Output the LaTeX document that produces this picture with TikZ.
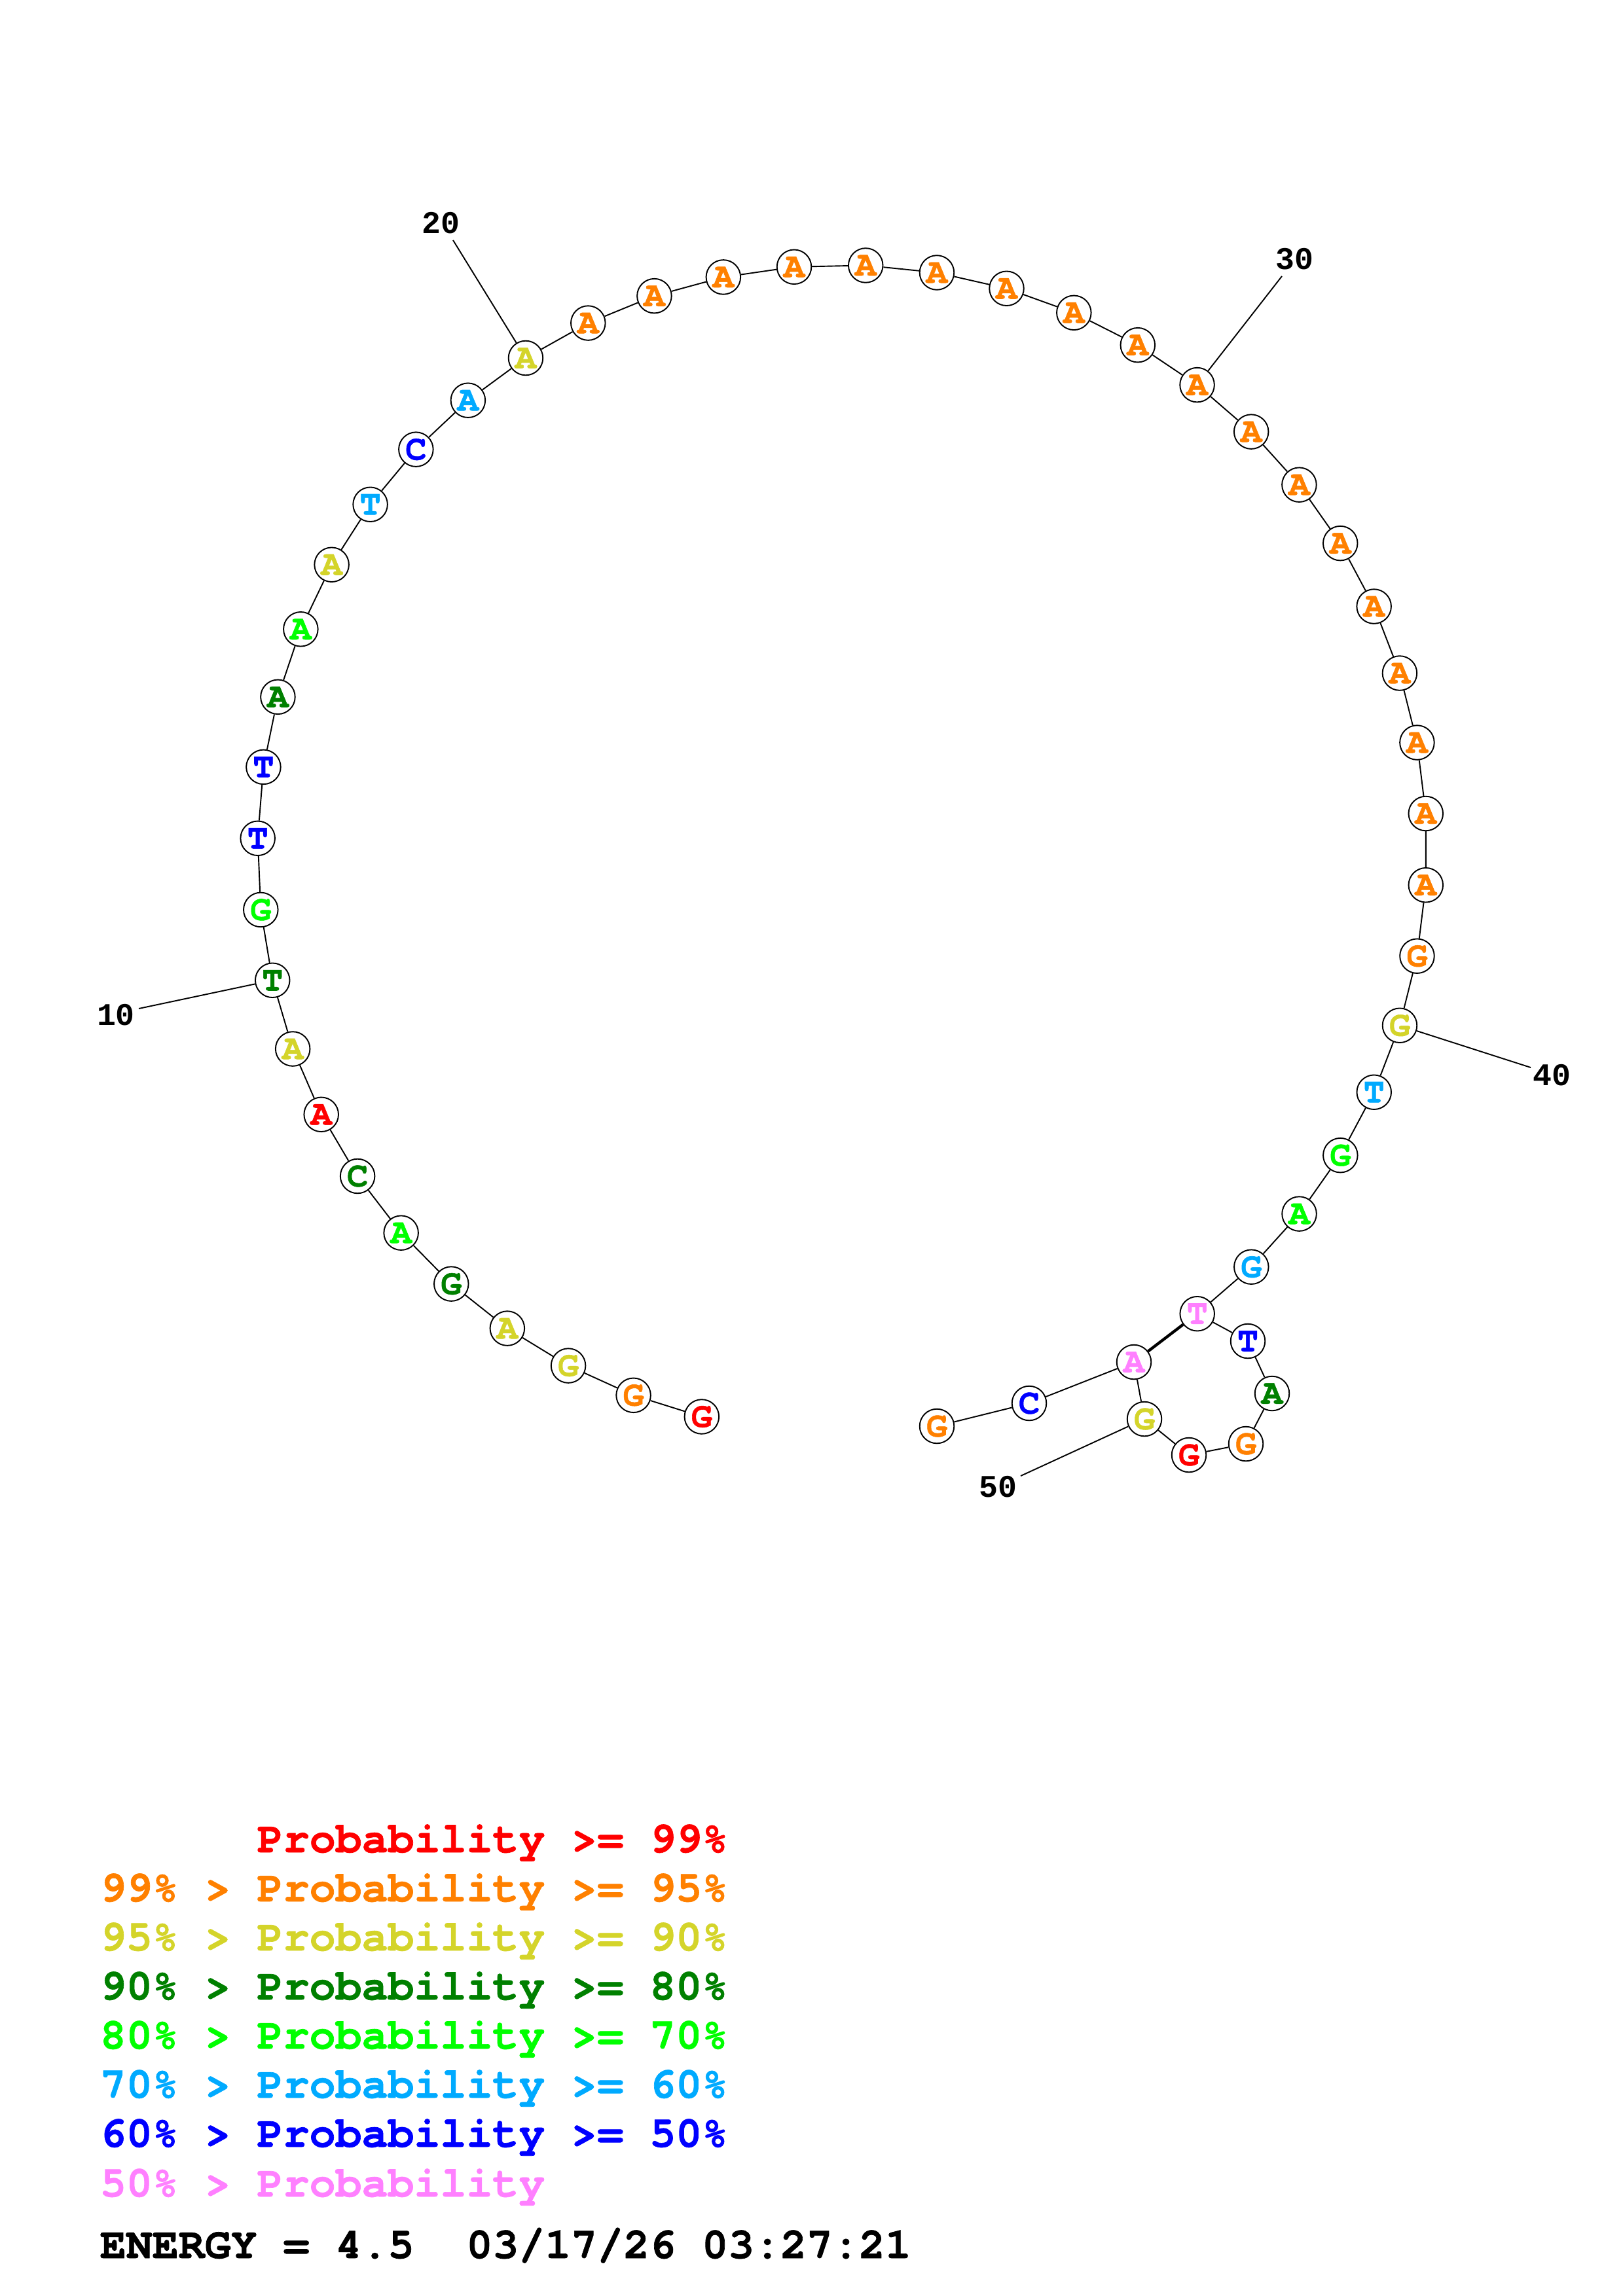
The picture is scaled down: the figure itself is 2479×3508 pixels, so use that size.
\documentclass[tikz,border=0pt]{standalone}
\usepackage{fontspec}
\newfontfamily\courb{texgyrecursor-bold.otf}[FakeBold=1]
\newfontfamily\labf{Liberation Mono}
\definecolor{pRed}{HTML}{FF0000}
\definecolor{pOrange}{HTML}{FF8000}
\definecolor{pYellow}{HTML}{D4D42A}
\definecolor{pDkGreen}{HTML}{008000}
\definecolor{pGreen}{HTML}{00FF00}
\definecolor{pCyan}{HTML}{00AAFF}
\definecolor{pBlue}{HTML}{0000FF}
\definecolor{pPink}{HTML}{FF80FF}
\begin{document}
\begin{tikzpicture}[x=0.084667mm,y=-0.084667mm,
  base/.style={circle,draw=black,fill=white,line width=0.46pt,minimum size=4.45mm,inner sep=0pt,font=\courb\fontsize{13}{13}\selectfont},
  bb/.style={line width=0.46pt},
  pairline/.style={line width=1.05pt},
  numlab/.style={font=\labf\bfseries\fontsize{11.6}{12}\selectfont,inner sep=0pt},
  leg/.style={font=\courb\fontsize{16.05}{16}\selectfont,anchor=base west,inner sep=0pt}]
\useasboundingbox (0,0) rectangle (2479,3508);
% nucleotides 1..45 on the exterior circle
\foreach \k/\b/\c in {1/G/pRed,2/G/pOrange,3/G/pYellow,4/A/pYellow,5/G/pDkGreen,6/A/pGreen,7/C/pDkGreen,8/A/pRed,9/A/pYellow,10/T/pDkGreen,
  11/G/pGreen,12/T/pBlue,13/T/pBlue,14/A/pDkGreen,15/A/pGreen,16/A/pYellow,17/T/pCyan,18/C/pBlue,19/A/pCyan,20/A/pYellow,
  21/A/pOrange,22/A/pOrange,23/A/pOrange,24/A/pOrange,25/A/pOrange,26/A/pOrange,27/A/pOrange,28/A/pOrange,29/A/pOrange,30/A/pOrange,
  31/A/pOrange,32/A/pOrange,33/A/pOrange,34/A/pOrange,35/A/pOrange,36/A/pOrange,37/A/pOrange,38/A/pOrange,39/G/pOrange,40/G/pYellow,
  41/T/pCyan,42/G/pGreen,43/A/pGreen,44/G/pCyan,45/T/pPink}{
  \pgfmathsetmacro{\th}{-103.91-7.016*(\k-1)}
  \node[base,text=\c] (n\k) at ({1286.5+893*cos(\th)},{1297.7-893*sin(\th)}) {\b};
}
% hairpin and 3' tail
\node[base,text=pBlue]    (n46) at (1906,2049) {T};
\node[base,text=pDkGreen] (n47) at (1943,2129) {A};
\node[base,text=pOrange]  (n48) at (1903,2206) {G};
\node[base,text=pRed]     (n49) at (1816,2223) {G};
\node[base,text=pYellow]  (n50) at (1748,2168) {G};
\node[base,text=pPink]    (n51) at (1732,2081) {A};
\node[base,text=pBlue]    (n52) at (1572,2144) {C};
\node[base,text=pOrange]  (n53) at (1431,2179) {G};
% backbone
\foreach \i [evaluate=\i as \j using int(\i+1)] in {1,...,52}
  \draw[bb] (n\i) -- (n\j);
% base pair
\draw[pairline] (n45) -- (n51);
% number labels
\node[numlab] (lab10) at (177,1551) {10};
\node[numlab] (lab20) at (673,341) {20};
\node[numlab] (lab30) at (1977,396) {30};
\node[numlab] (lab40) at (2370,1643) {40};
\node[numlab] (lab50) at (1524,2272) {50};
\coordinate (t10) at (212,1541);
\coordinate (t20) at (692,367);
\coordinate (t30) at (1958,422);
\coordinate (t40) at (2338,1631);
\coordinate (t50) at (1559,2255);
\draw[bb] (t10) -- (n10);
\draw[bb] (t20) -- (n20);
\draw[bb] (t30) -- (n30);
\draw[bb] (t40) -- (n40);
\draw[bb] (t50) -- (n50);
% legend
\node[leg,text=pRed]     (leg1) at (392,2830) {Probability >= 99\%};
\node[leg,text=pOrange]  (leg2) at (152,2905) {99\% > Probability >= 95\%};
\node[leg,text=pYellow]  (leg3) at (152,2980) {95\% > Probability >= 90\%};
\node[leg,text=pDkGreen] (leg4) at (152,3055) {90\% > Probability >= 80\%};
\node[leg,text=pGreen]   (leg5) at (152,3130) {80\% > Probability >= 70\%};
\node[leg,text=pCyan]    (leg6) at (152,3205) {70\% > Probability >= 60\%};
\node[leg,text=pBlue]    (leg7) at (152,3280) {60\% > Probability >= 50\%};
\node[leg,text=pPink]    (leg8) at (152,3356) {50\% > Probability};
\node[leg,text=black]    (energy) at (152,3450) {ENERGY = 4.5\ \ 03/17/26 03:27:21};
\end{tikzpicture}
\end{document}
